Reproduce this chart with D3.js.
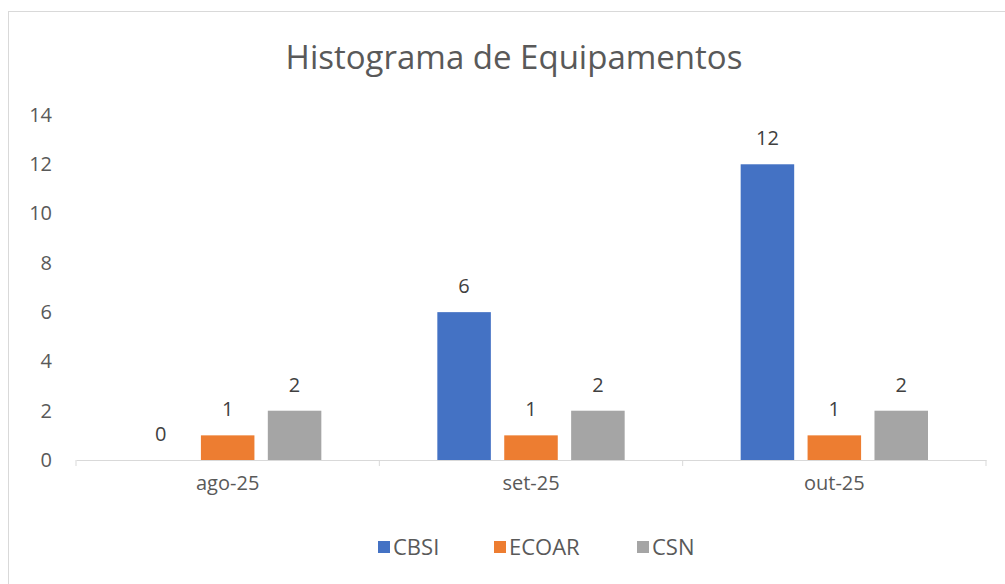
<!DOCTYPE html>
<html>
<head>
<meta charset="utf-8">
<script src="https://cdn.jsdelivr.net/npm/d3@7"></script>
<style>
    body { margin: 0; background: #fff; }
    text { font-family: "Open Sans", sans-serif; }
</style>
</head>
<body>
<svg id="chart" width="1005" height="584"></svg>
<script>
const months = ["ago-25", "set-25", "out-25"];
const seriesNames = ["CBSI", "ECOAR", "CSN"];
const cbsi = [0, 6, 12];
const ecoar = [1, 1, 1];
const csn = [2, 2, 2];
const yTicks = [0, 2, 4, 6, 8, 10, 12, 14];
const colors = ["#4472c4", "#ed7d31", "#a5a5a5"];

const values = [cbsi, ecoar, csn];
const data = months.map((m, i) => ({
    month: m,
    vals: seriesNames.map((s, j) => ({series: s, value: values[j][i]}))
}));

const svg = d3.select("#chart");
const margin = {top: 115, bottom: 124, left: 76, right: 19};
const width = 1005 - margin.left - margin.right;
const height = 584 - margin.top - margin.bottom;
const fontSize = 20;
const textColor = "#595959";

// chart frame
svg.append("rect")
    .attr("x", 8.5).attr("y", 11.5)
    .attr("width", 1010).attr("height", 590)
    .attr("fill", "#fff").attr("stroke", "#d9d9d9");

svg.append("text")
    .attr("x", 514).attr("y", 69)
    .attr("text-anchor", "middle")
    .attr("font-size", 33)
    .attr("fill", textColor)
    .text("Histograma de Equipamentos");

const xScale = d3.scaleBand()
    .domain(months)
    .range([0, width]);
const xInner = d3.scaleBand()
    .domain(seriesNames)
    .range([58, xScale.bandwidth() - 58])
    .paddingInner(0.2);
const yScale = d3.scaleLinear()
    .domain([0, 14])
    .range([height, 0]);

const g = svg.append("g")
    .attr("transform", `translate(${margin.left}, ${margin.top})`);

// y labels (no axis line)
const yAxis = d3.axisLeft(yScale).tickValues(yTicks).tickSize(0).tickPadding(24);
const ya = g.append("g").call(yAxis);
ya.select(".domain").remove();
ya.selectAll("text")
    .attr("font-size", fontSize)
    .attr("fill", textColor)
    .style("font-family", "'Open Sans', sans-serif");

// x axis
const xAxis = d3.axisBottom(xScale).tickSize(0).tickPadding(16).tickSizeOuter(0);
const xa = g.append("g")
    .attr("transform", `translate(0, ${height})`)
    .call(xAxis);
xa.select(".domain").attr("stroke", "#d9d9d9");
xa.selectAll("text")
    .attr("font-size", fontSize)
    .attr("fill", textColor)
    .style("font-family", "'Open Sans', sans-serif");
// tick marks at category boundaries
const bounds = [0, ...months.map(m => xScale(m) + xScale.bandwidth())];
xa.selectAll(".bound")
    .data(bounds)
    .enter().append("line")
    .attr("x1", d => d).attr("x2", d => d)
    .attr("y1", 0).attr("y2", 6)
    .attr("stroke", "#d9d9d9");

const groups = g.selectAll(".grp")
    .data(data)
    .enter().append("g")
    .attr("transform", d => `translate(${xScale(d.month)}, 0)`);

groups.selectAll("rect")
    .data(d => d.vals)
    .enter().append("rect")
    .attr("x", d => xInner(d.series))
    .attr("y", d => yScale(d.value))
    .attr("width", xInner.bandwidth())
    .attr("height", d => height - yScale(d.value))
    .attr("fill", (d, i) => colors[i]);

groups.selectAll(".label")
    .data(d => d.vals)
    .enter().append("text")
    .attr("x", d => xInner(d.series) + xInner.bandwidth() / 2)
    .attr("y", d => yScale(d.value) - 19)
    .attr("text-anchor", "middle")
    .attr("font-size", fontSize)
    .attr("fill", "#404040")
    .text(d => d.value);

// legend
const legendX = [378, 494, 637];
const legend = svg.selectAll(".legend")
    .data(seriesNames)
    .enter().append("g")
    .attr("transform", (d, i) => `translate(${legendX[i]}, 541)`);
legend.append("rect")
    .attr("width", 12).attr("height", 12)
    .attr("fill", (d, i) => colors[i]);
legend.append("text")
    .attr("x", 15).attr("y", 14)
    .attr("font-size", 22)
    .attr("fill", textColor)
    .text(d => d);
</script>
</body>
</html>
